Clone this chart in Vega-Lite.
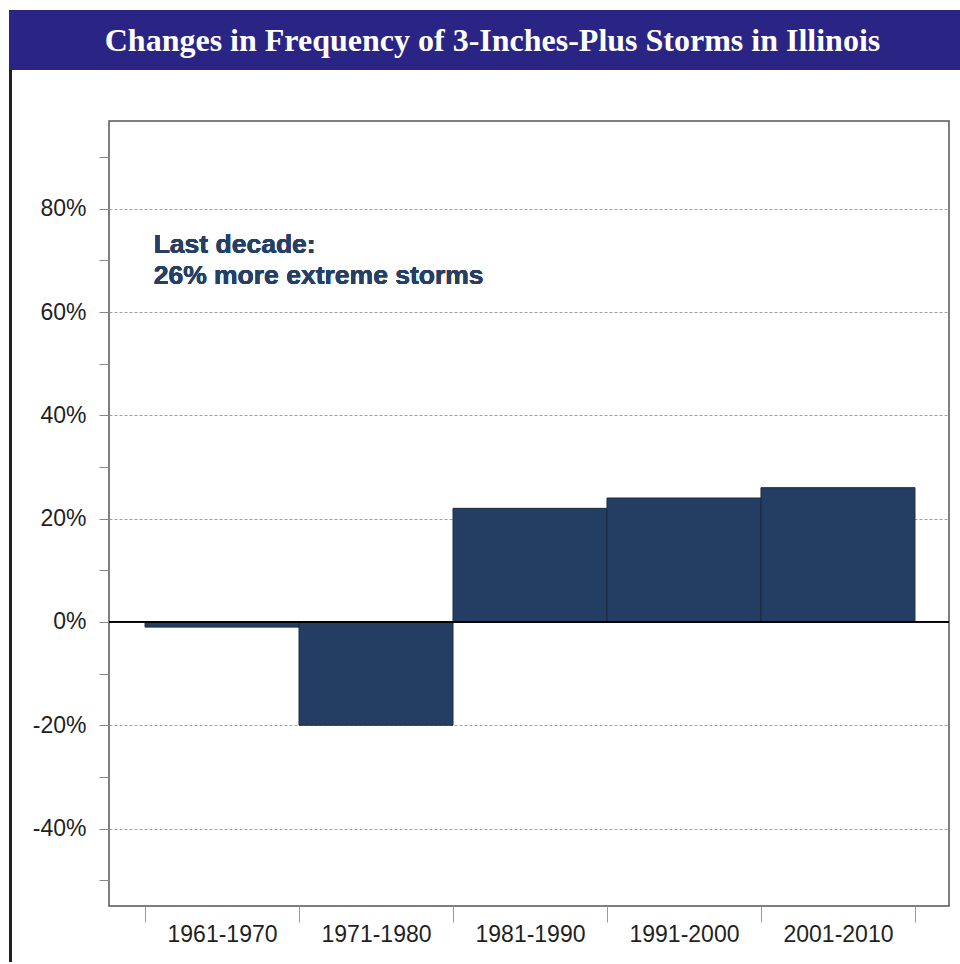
{
  "$schema": "https://vega.github.io/schema/vega-lite/v6.json",
  "padding": {"left": 9, "top": 10, "right": 0, "bottom": 0},
  "background": "white",
  "spacing": 0,
  "vconcat": [
    {
      "width": 951,
      "height": 60,
      "view": {"fill": "#2a2484", "stroke": null},
      "data": {"values": [{"title": "Changes in Frequency of 3-Inches-Plus Storms in Illinois"}]},
      "mark": {"type": "text", "font": "Liberation Serif", "fontSize": 32, "fontWeight": "bold", "color": "white", "align": "center", "baseline": "middle", "dx": 8, "dy": 1},
      "encoding": {"text": {"field": "title"}}
    },
    {
      "spacing": 19,
      "hconcat": [
        {
          "width": 3,
          "height": 892,
          "view": {"fill": "#231f20", "stroke": null},
          "data": {"values": [{"t": ""}]},
          "mark": {"type": "text"},
          "encoding": {"text": {"field": "t"}}
        },
        {
          "spacing": 0,
          "vconcat": [
            {
              "width": 1,
              "height": 50,
              "view": {"fill": null, "stroke": null},
              "data": {"values": [{"t": ""}]},
              "mark": {"type": "text"},
              "encoding": {"text": {"field": "t"}}
            },
            {
              "width": 840,
              "height": 785,
              "view": {"stroke": "#555555", "strokeWidth": 1.5},
              "data": {"values": [
                {"period": "1961-1970", "start": 1961, "end": 1971, "change": -1},
                {"period": "1971-1980", "start": 1971, "end": 1981, "change": -20},
                {"period": "1981-1990", "start": 1981, "end": 1991, "change": 22},
                {"period": "1991-2000", "start": 1991, "end": 2001, "change": 24},
                {"period": "2001-2010", "start": 2001, "end": 2011, "change": 26}
              ]},
              "layer": [
                {
                  "mark": {"type": "rect", "color": "#243e63", "stroke": "#1b2b45", "strokeWidth": 1},
                  "encoding": {
                    "x": {
                      "field": "start", "type": "quantitative",
                      "scale": {"domain": [1958.66, 2013.21], "nice": false, "zero": false},
                      "axis": {
                        "values": [1961, 1971, 1981, 1991, 2001, 2011],
                        "labelExpr": "datum.value < 2011 ? datum.value + '-' + (datum.value + 9) : ''",
                        "labelOffset": 77,
                        "labelFont": "Liberation Sans",
                        "labelFontSize": 23,
                        "labelColor": "#231f20",
                        "labelPadding": 1,
                        "labelOverlap": false,
                        "labelBound": false,
                        "labelFlush": false,
                        "tickSize": 16,
                        "tickColor": "#999999",
                        "tickWidth": 1,
                        "domain": false,
                        "grid": false,
                        "title": null
                      }
                    },
                    "x2": {"field": "end"},
                    "y": {
                      "field": "change", "type": "quantitative",
                      "scale": {"domain": [-55, 97], "nice": false, "zero": false},
                      "axis": {
                        "values": [-50, -40, -30, -20, -10, 0, 10, 20, 30, 40, 50, 60, 70, 80, 90],
                        "labelExpr": "datum.value % 20 === 0 ? datum.value + '%' : ''",
                        "labelFont": "Liberation Sans",
                        "labelFontSize": 23,
                        "labelColor": "#231f20",
                        "labelPadding": 13,
                        "labelOverlap": false,
                        "labelBound": false,
                        "tickSize": 10,
                        "tickColor": "#888888",
                        "tickWidth": 1,
                        "domain": false,
                        "grid": true,
                        "gridColor": "#a0a0a0",
                        "gridDash": [3, 2],
                        "gridWidth": 1,
                        "gridOpacity": {"condition": {"test": "datum.value % 20 === 0 && datum.value !== 0", "value": 1}, "value": 0},
                        "title": null
                      }
                    },
                    "y2": {"datum": 0}
                  }
                },
                {
                  "mark": {"type": "rule", "color": "#000000", "strokeWidth": 1},
                  "encoding": {"y": {"datum": 0}}
                },
                {
                  "mark": {"type": "text", "font": "Liberation Sans", "fontSize": 26.5, "fontWeight": "bold", "color": "#253f66", "align": "left", "baseline": "alphabetic", "lineHeight": 31},
                  "encoding": {
                    "x": {"datum": 1961.56},
                    "y": {"datum": 71.5},
                    "text": {"value": ["Last decade:", "26% more extreme storms"]}
                  }
                }
              ]
            }
          ]
        }
      ]
    }
  ]
}
